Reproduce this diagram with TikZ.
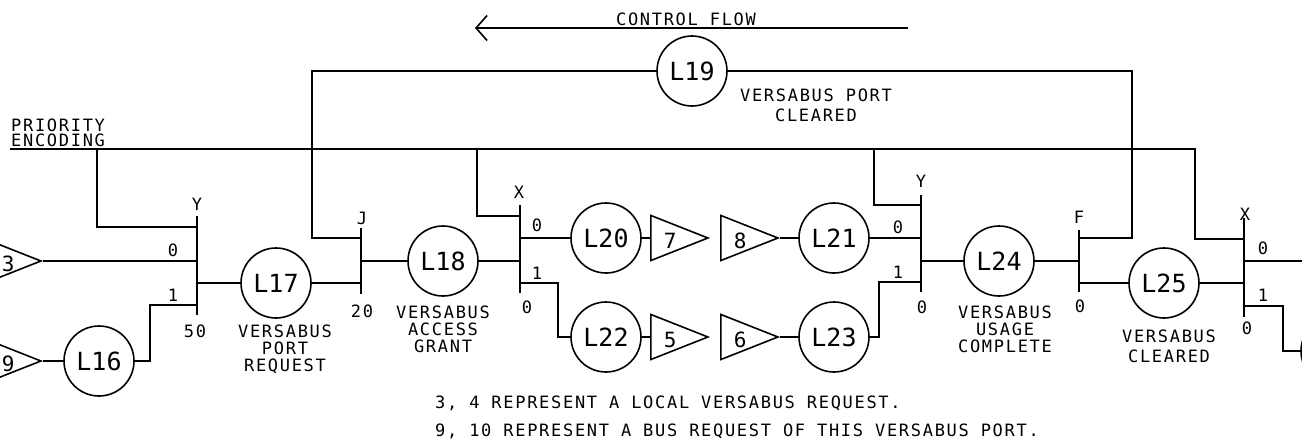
\documentclass[tikz,border=0pt]{standalone}
\usepackage{fontspec}
\newfontfamily\plotfont[LetterSpace=10]{DejaVu Sans Mono}
\newfontfamily\plotbig{DejaVu Sans Mono}
\usetikzlibrary{shapes.geometric,arrows.meta}
\tikzset{
	wire/.style={line width=1.8pt},
	tbar/.style={line width=2pt},
	lstate/.style={circle, draw, line width=1.6pt, minimum size=70pt, inner sep=0pt, font=\plotbig\fontsize{25}{25}\selectfont},
	amp/.style={isosceles triangle, isosceles triangle stretches, shape border rotate=0, draw, line width=1.6pt, minimum width=45pt, minimum height=57pt, inner sep=0pt, anchor=apex},
	ampnum/.style={inner sep=0pt, font=\plotbig\fontsize{21}{21}\selectfont},
	txt/.style={inner sep=0pt, align=center, font=\plotfont\fontsize{17}{17}\selectfont},
}

\begin{document}
\begin{tikzpicture}[x=1pt, y=-1pt]
			%%%%% START %%%%%
			\useasboundingbox (0,0) rectangle (1302,444);
			\clip (0,0) rectangle (1302,444);
			
			% control flow arrow
			\node[txt] (cflow) at (686,19) {CONTROL FLOW};
			\draw[wire, -{Straight Barb[length=11pt, width=25pt, line width=1.6pt]}] (908,28) -- (475,28);
			
			% decision bars
			\draw[tbar] (197,216) coordinate (Y1t) -- (197,315) coordinate (Y1b);
			\draw[tbar] (361,228) coordinate (Jt) -- (361,294) coordinate (Jb);
			\draw[tbar] (520,205) coordinate (X1t) -- (520,293) coordinate (X1b);
			\draw[tbar] (921,195) coordinate (Y2t) -- (921,292) coordinate (Y2b);
			\draw[tbar] (1079,230) coordinate (Ft) -- (1079,292) coordinate (Fb);
			\draw[tbar] (1244,218) coordinate (X2t) -- (1244,317) coordinate (X2b);
			
			\node[txt] (Y1lbl) at (197,204) {Y};
			\node[txt] (Y1zero) at (173,250) {0};
			\node[txt] (Y1one) at (173,295) {1};
			\node[txt] (Y1num) at (195,331) {50};
			\node[txt] (Jlbl) at (362,218) {J};
			\node[txt] (Jnum) at (362,311) {20};
			\node[txt] (X1lbl) at (519,192) {X};
			\node[txt] (X1zero) at (537,225) {0};
			\node[txt] (X1one) at (537,273) {1};
			\node[txt] (X1num) at (527,307) {0};
			\node[txt] (Y2lbl) at (921,181) {Y};
			\node[txt] (Y2zero) at (898,227) {0};
			\node[txt] (Y2one) at (898,272) {1};
			\node[txt] (Y2num) at (922,307) {0};
			\node[txt] (Flbl) at (1079,217) {F};
			\node[txt] (Fnum) at (1080,306) {0};
			\node[txt] (X2lbl) at (1245,214) {X};
			\node[txt] (X2zero) at (1263,248) {0};
			\node[txt] (X2one) at (1263,295) {1};
			\node[txt] (X2num) at (1247,328) {0};
			
			% states
			\node[lstate] (L16) at (99,361) {L16};
			\node[lstate] (L17) at (276,283) {L17};
			\node[lstate] (L18) at (443,261) {L18};
			\node[lstate] (L19) at (692,71) {L19};
			\node[lstate] (L20) at (606,238) {L20};
			\node[lstate] (L21) at (834,238) {L21};
			\node[lstate] (L22) at (606,337) {L22};
			\node[lstate] (L23) at (834,337) {L23};
			\node[lstate] (L24) at (999,261) {L24};
			\node[lstate] (L25) at (1164,283) {L25};
			\node[lstate] (L26) at (1336,351) {};
			
			\node[txt] (L17txt) at (285,349) {VERSABUS\\PORT\\REQUEST};
			\node[txt] (L18txt) at (443,329) {VERSABUS\\ACCESS\\GRANT};
			\node[txt, font=\plotfont\fontsize{17}{20}\selectfont] (L19txt) at (816,105) {VERSABUS PORT\\CLEARED};
			\node[txt] (L24txt) at (1005,329) {VERSABUS\\USAGE\\COMPLETE};
			\node[txt, font=\plotfont\fontsize{17}{20}\selectfont] (L25txt) at (1169,346) {VERSABUS\\CLEARED};
			
			% connectors
			\node[amp] (Tri3) at (43,261) {};
			\node[amp] (Tri9) at (43,361) {};
			\node[amp] (Tri7) at (710,238) {};
			\node[amp] (Tri8) at (780,238) {};
			\node[amp] (Tri5) at (710,337) {};
			\node[amp] (Tri6) at (780,337) {};
			\foreach \tri/\num/\dx in {Tri3/3/25, Tri9/9/25, Tri7/7/20, Tri8/8/20, Tri5/5/20, Tri6/6/20}
				\node[ampnum] (\tri num) at ([xshift=\dx pt, yshift=-3pt]\tri.lower side) {\num};
			
			% priority encoding line
			\node[txt, align=left, anchor=south west, font=\plotfont\fontsize{17}{15}\selectfont] (prio) at (11,147) {PRIORITY\\ENCODING};
			\draw[wire] (10,149) -- (1195,149) |- (X2t |- 0,239);
			\draw[wire] (97,149) |- (Y1t |- 0,227);
			\draw[wire] (477,149) |- (X1t |- 0,216);
			\draw[wire] (874,149) |- (Y2t |- 0,205);
			
			% loop through L19
			\draw[wire] (Jt |- 0,238) -| (312,71) -- (L19) -- (1132,71) |- (Ft |- 0,238);
			
			% wires
			\draw[wire] (Tri3.apex) -- (Tri3.apex -| Y1t);
			\draw[wire] (Tri9.apex) -- (L16);
			\draw[wire] (L16) -- (150,361) |- (Y1t |- 0,305);
			\draw[wire] (Y1t |- L17) -- (L17);
			\draw[wire] (L17) -- (Jt |- L17);
			\draw[wire] (Jt |- L18) -- (L18);
			\draw[wire] (L18) -- (X1t |- L18);
			\draw[wire] (X1t |- L20) -- (L20);
			\draw[wire] (X1t |- 0,283) -| (558,337) -- (L22);
			\draw[wire] (L20) -- (Tri7);
			\draw[wire] (Tri8.apex) -- (L21);
			\draw[wire] (L22) -- (Tri5);
			\draw[wire] (Tri6.apex) -- (L23);
			\draw[wire] (L21) -- (Y2t |- L21);
			\draw[wire] (L23) -- (879,337) |- (Y2t |- 0,282);
			\draw[wire] (Y2t |- L24) -- (L24);
			\draw[wire] (L24) -- (Ft |- L24);
			\draw[wire] (Ft |- L25) -- (L25);
			\draw[wire] (L25) -- (X2t |- L25);
			\draw[wire] (X2t |- 0,261) -- (1302,261);
			\draw[wire] (X2t |- 0,306) -| (1283,351) -- (L26);
			
			% notes
			\node[txt, anchor=base west] (note1) at (435,408) {3, 4 REPRESENT A LOCAL VERSABUS REQUEST.};
			\node[txt, anchor=base west] (note2) at (435,436) {9, 10 REPRESENT A BUS REQUEST OF THIS VERSABUS PORT.};
			
			%%%%% END %%%%%
\end{tikzpicture}
\end{document}
